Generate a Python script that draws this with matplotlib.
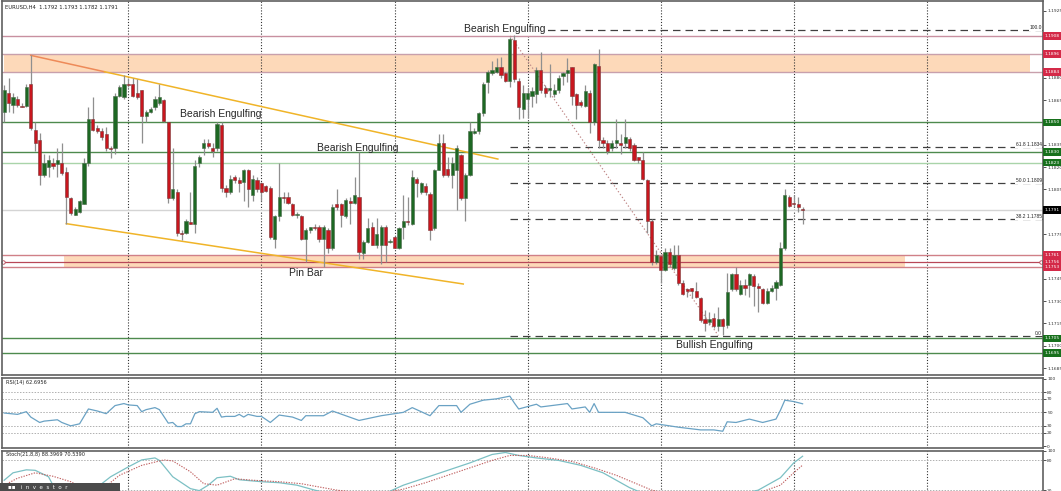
import numpy as np
import matplotlib.pyplot as plt
from matplotlib import transforms
from matplotlib.patches import Rectangle

# EURUSD H4 candles
opens = [
    1.1857, 1.1870, 1.1862, 1.1866, 1.1861, 1.1861, 1.1876, 1.1845, 1.1838, 1.1815,
    1.1820, 1.1823, 1.1822, 1.1823, 1.1817, 1.1799, 1.1788, 1.1790, 1.1795, 1.1823,
    1.1852, 1.1846, 1.1844, 1.1842, 1.1833, 1.1833, 1.1868, 1.1867, 1.1876, 1.1876,
    1.1870, 1.1872, 1.1854, 1.1857, 1.1860, 1.1863, 1.1865, 1.1850, 1.1799, 1.1803,
    1.1776, 1.1776, 1.1783, 1.1782, 1.1823, 1.1833, 1.1836, 1.1833, 1.1833, 1.1848,
    1.1806, 1.1803, 1.1813, 1.1811, 1.1810, 1.1818, 1.1801, 1.1811, 1.1809, 1.1807,
    1.1806, 1.1772, 1.1787, 1.1800, 1.1800, 1.1795, 1.1788, 1.1787, 1.1772, 1.1778,
    1.1780, 1.1780, 1.1772, 1.1778, 1.1766, 1.1795, 1.1795, 1.1787, 1.1797, 1.1796,
    1.1800, 1.1762, 1.1770, 1.1780, 1.1768, 1.1768, 1.1780, 1.1770, 1.1773, 1.1766,
    1.1780, 1.1784, 1.1782, 1.1812, 1.1803, 1.1807, 1.1802, 1.1779, 1.1818, 1.1836,
    1.1819, 1.1815, 1.1818, 1.1828, 1.1799, 1.1815, 1.1843, 1.1844, 1.1856, 1.1877,
    1.1883, 1.1884, 1.1887, 1.1883, 1.1878, 1.1905, 1.1878, 1.1859, 1.1866, 1.1868,
    1.1869, 1.1885, 1.1873, 1.1872, 1.1869, 1.1872, 1.1881, 1.1883, 1.1887, 1.1869,
    1.1864, 1.1861, 1.1870, 1.1850, 1.1888, 1.1838, 1.1836, 1.1833, 1.1836, 1.1836,
    1.1836, 1.1839, 1.1835, 1.1827, 1.1825, 1.1811, 1.1784, 1.1756, 1.1760, 1.1751,
    1.1763, 1.1752, 1.1761, 1.1742, 1.1738, 1.1739, 1.1737, 1.1732, 1.1718, 1.1716,
    1.1719, 1.1713, 1.1718, 1.1714, 1.1738, 1.1748, 1.1735, 1.1741, 1.1741, 1.1747,
    1.1740, 1.1738, 1.1729, 1.1737, 1.1739, 1.1741, 1.1766, 1.1800, 1.1796, 1.1795,
    1.1792]
highs = [
    1.1875, 1.1880, 1.1870, 1.1868, 1.1863, 1.1876, 1.1895, 1.1850, 1.1843, 1.1829,
    1.1828, 1.1826, 1.1833, 1.1836, 1.1820, 1.1800, 1.1793, 1.1798, 1.1826, 1.1860,
    1.1867, 1.1848, 1.1846, 1.1847, 1.1834, 1.1870, 1.1875, 1.1882, 1.1880, 1.1880,
    1.1879, 1.1872, 1.1858, 1.1860, 1.1868, 1.1876, 1.1866, 1.1850, 1.1833, 1.1805,
    1.1778, 1.1785, 1.1803, 1.1825, 1.1828, 1.1839, 1.1839, 1.1836, 1.1850, 1.1850,
    1.1808, 1.1815, 1.1815, 1.1813, 1.1819, 1.1819, 1.1815, 1.1813, 1.1810, 1.1808,
    1.1807, 1.1788, 1.1823, 1.1803, 1.1803, 1.1796, 1.1790, 1.1788, 1.1779, 1.1780,
    1.1782, 1.1781, 1.1781, 1.1779, 1.1795, 1.1805, 1.1796, 1.1799, 1.1800, 1.1813,
    1.1830, 1.1771, 1.1786, 1.1783, 1.1786, 1.1781, 1.1781, 1.1772, 1.1774, 1.1780,
    1.1801, 1.1800, 1.1818, 1.1813, 1.1810, 1.1809, 1.1803, 1.1819, 1.1842, 1.1842,
    1.1827, 1.1827, 1.1835, 1.1829, 1.1816, 1.1850, 1.1846, 1.1857, 1.1877, 1.1885,
    1.1891, 1.1893, 1.1894, 1.1884, 1.1907, 1.1909, 1.1880, 1.1875, 1.1873, 1.1874,
    1.1887, 1.1897, 1.1875, 1.1889, 1.1876, 1.1882, 1.1884, 1.1893, 1.1887, 1.1870,
    1.1865, 1.1875, 1.1872, 1.1890, 1.1899, 1.1840, 1.1838, 1.1838, 1.1852, 1.1842,
    1.1852, 1.1840, 1.1836, 1.1827, 1.1830, 1.1812, 1.1785, 1.1764, 1.1761, 1.1766,
    1.1766, 1.1768, 1.1768, 1.1744, 1.1739, 1.1739, 1.1743, 1.1733, 1.1724, 1.1723,
    1.1722, 1.1726, 1.1719, 1.1749, 1.1749, 1.1753, 1.1744, 1.1745, 1.1749, 1.1748,
    1.1742, 1.1739, 1.1739, 1.1741, 1.1744, 1.1770, 1.1805, 1.1801, 1.1801, 1.1800,
    1.1793]
lows = [
    1.1850, 1.1857, 1.1856, 1.1860, 1.1860, 1.1860, 1.1845, 1.1831, 1.1808, 1.1813,
    1.1813, 1.1819, 1.1813, 1.1815, 1.1782, 1.1788, 1.1788, 1.1789, 1.1795, 1.1821,
    1.1844, 1.1843, 1.1838, 1.1831, 1.1826, 1.1829, 1.1867, 1.1866, 1.1874, 1.1867,
    1.1866, 1.1836, 1.1850, 1.1856, 1.1858, 1.1862, 1.1850, 1.1796, 1.1798, 1.1774,
    1.1771, 1.1775, 1.1782, 1.1776, 1.1820, 1.1828, 1.1833, 1.1827, 1.1831, 1.1803,
    1.1800, 1.1802, 1.1809, 1.1803, 1.1797, 1.1793, 1.1797, 1.1803, 1.1797, 1.1803,
    1.1772, 1.1766, 1.1784, 1.1796, 1.1795, 1.1787, 1.1786, 1.1771, 1.1756, 1.1776,
    1.1778, 1.1770, 1.1753, 1.1762, 1.1764, 1.1791, 1.1780, 1.1786, 1.1782, 1.1795,
    1.1758, 1.1758, 1.1769, 1.1768, 1.1766, 1.1755, 1.1756, 1.1769, 1.1766, 1.1765,
    1.1772, 1.1781, 1.1781, 1.1800, 1.1802, 1.1801, 1.1771, 1.1778, 1.1818, 1.1813,
    1.1813, 1.1806, 1.1791, 1.1798, 1.1784, 1.1814, 1.1842, 1.1842, 1.1854, 1.1870,
    1.1882, 1.1883, 1.1880, 1.1877, 1.1874, 1.1877, 1.1852, 1.1853, 1.1853, 1.1860,
    1.1863, 1.1870, 1.1867, 1.1867, 1.1867, 1.1870, 1.1875, 1.1877, 1.1862, 1.1852,
    1.1860, 1.1860, 1.1843, 1.1848, 1.1833, 1.1833, 1.1829, 1.1831, 1.1833, 1.1829,
    1.1833, 1.1831, 1.1824, 1.1823, 1.1811, 1.1776, 1.1754, 1.1755, 1.1742, 1.1750,
    1.1753, 1.1751, 1.1741, 1.1734, 1.1733, 1.1732, 1.1732, 1.1716, 1.1710, 1.1714,
    1.1712, 1.1710, 1.1707, 1.1712, 1.1737, 1.1737, 1.1734, 1.1734, 1.1733, 1.1727,
    1.1723, 1.1728, 1.1728, 1.1736, 1.1731, 1.1740, 1.1764, 1.1793, 1.1793, 1.1790,
    1.1782]
closes = [
    1.1872, 1.1863, 1.1867, 1.1862, 1.1860, 1.1874, 1.1846, 1.1836, 1.1815, 1.1823,
    1.1825, 1.1821, 1.1825, 1.1816, 1.1800, 1.1789, 1.1792, 1.1797, 1.1823, 1.1852,
    1.1845, 1.1844, 1.1840, 1.1833, 1.1832, 1.1868, 1.1874, 1.1876, 1.1875, 1.1868,
    1.1867, 1.1854, 1.1857, 1.1859, 1.1866, 1.1867, 1.1851, 1.1799, 1.1805, 1.1776,
    1.1775, 1.1784, 1.1782, 1.1821, 1.1827, 1.1836, 1.1834, 1.1831, 1.1849, 1.1806,
    1.1803, 1.1812, 1.1811, 1.1809, 1.1818, 1.1805, 1.1812, 1.1805, 1.1803, 1.1804,
    1.1773, 1.1787, 1.1800, 1.1799, 1.1796, 1.1788, 1.1788, 1.1772, 1.1778, 1.1780,
    1.1779, 1.1772, 1.1780, 1.1766, 1.1793, 1.1793, 1.1788, 1.1798, 1.1796, 1.1801,
    1.1763, 1.1770, 1.1779, 1.1768, 1.1775, 1.1780, 1.1768, 1.1770, 1.1766, 1.1779,
    1.1784, 1.1783, 1.1813, 1.1809, 1.1809, 1.1803, 1.1778, 1.1818, 1.1836, 1.1815,
    1.1815, 1.1823, 1.1833, 1.1799, 1.1815, 1.1844, 1.1844, 1.1856, 1.1876, 1.1884,
    1.1885, 1.1887, 1.1882, 1.1878, 1.1906, 1.1879, 1.1860, 1.1870, 1.1870, 1.1871,
    1.1885, 1.1872, 1.1870, 1.1873, 1.1872, 1.1880, 1.1883, 1.1885, 1.1868, 1.1862,
    1.1862, 1.1871, 1.1850, 1.1889, 1.1838, 1.1836, 1.1831, 1.1836, 1.1838, 1.1835,
    1.1840, 1.1833, 1.1825, 1.1825, 1.1812, 1.1784, 1.1756, 1.1761, 1.1751, 1.1763,
    1.1755, 1.1761, 1.1742, 1.1735, 1.1737, 1.1737, 1.1733, 1.1717, 1.1715, 1.1718,
    1.1713, 1.1718, 1.1713, 1.1736, 1.1748, 1.1738, 1.1741, 1.1739, 1.1748, 1.1740,
    1.1739, 1.1729, 1.1737, 1.1739, 1.1743, 1.1766, 1.1801, 1.1794, 1.1795, 1.1793,
    1.1791]

# RSI(14) readings (bar, value)
rsi_bars = [0, 3, 5, 6, 8, 9, 12, 13, 15, 17, 19, 21, 23, 25, 27, 28, 30, 31, 32, 34, 35, 37, 38, 39, 40,
            41, 42, 43, 44, 47, 48, 49, 50, 52, 53, 54, 55, 57, 58, 60, 62, 64, 65, 67,
            68, 72, 74, 80, 85, 90, 92, 96, 98, 102, 103, 105, 108, 111, 114, 115, 116, 120, 121,
            127, 128, 131, 132, 133, 134, 140, 144, 146, 147, 152, 157, 160, 162, 163, 165, 168,
            171, 174, 175, 176, 178, 180]
rsi_vals = [49, 47, 51, 43, 35, 37, 39, 35, 30, 33, 55, 52, 48, 60, 63, 61, 60, 51, 54, 57, 54, 34, 35, 29, 29,
            33, 33, 48, 51, 50, 56, 43, 44, 44, 47, 43, 47, 44, 44, 35, 46, 44, 43, 38,
            45, 45, 52, 38, 45, 50, 57, 45, 60, 60, 50, 62, 68, 70, 74, 64, 55, 62, 58,
            63, 55, 58, 50, 63, 50, 50, 42, 30, 33, 28, 24, 24, 22, 36, 35, 40,
            35, 40, 53, 68, 66, 62.7]

# Stoch(21,8,8) main and signal readings (bar, value)
stm_bars = [0, 2, 5, 7, 10, 11, 13, 16, 20, 24, 28, 31, 34, 35, 38, 42, 44, 46, 48, 51, 53, 58, 62, 66,
            70, 75, 80, 85, 90, 95, 100, 105, 110, 113, 116, 120, 125, 130, 135, 138, 141, 145, 150,
            160, 165, 170, 175, 178, 180]
stm_vals = [40, 55, 61, 60, 47, 30, 19, 8, 19, 47, 67, 81, 85, 80, 47, 23, 19, 30, 45, 48, 41, 37, 35, 30,
            20, 10, 15, 10, 30, 45, 60, 75, 92, 96, 90, 85, 80, 70, 55, 40, 25, 10, 5,
            3, 10, 20, 45, 75, 88.4]
sts_bars = [0, 3, 7, 11, 15, 18, 22, 26, 31, 36, 38, 42, 45, 48, 52, 56, 62, 67,
            70, 75, 80, 85, 90, 95, 100, 105, 110, 114, 118, 122, 128, 133, 138, 142, 146, 152,
            160, 166, 170, 175, 178, 180]
sts_vals = [30, 44, 55, 48, 37, 23, 21, 50, 70, 81, 79, 57, 33, 30, 43, 40, 37, 33,
            28, 20, 15, 14, 22, 35, 50, 65, 80, 90, 90, 86, 78, 65, 50, 35, 20, 8,
            5, 8, 14, 30, 55, 70.5]

# levels drawn on the chart
fib_high = 1.19119
fib_low = 1.17069
fib_start = 114
fib_end = 161
fib_ratios = [0.0, 38.2, 50.0, 61.8, 100.0]
zone_top = [1.1896, 1.1884]
zone_bottom = [1.1761, 1.1753]
zone_mid = 1.1756
mauve_level = 1.1908
green_levels = [1.1850, 1.1830, 1.1705, 1.1695]
light_green_level = 1.1823
bid = 1.1791
upper_trend = [(6, 1.1895), (111.3, 1.18254)]
lower_trend = [(14, 1.1782), (103.5, 1.17415)]
notes = [("Bearish Engulfing", 112.9, 1.19127), ("Bearish Engulfing", 48.9, 1.18556),
         ("Bearish Engulfing", 79.8, 1.18328), ("Pin Bar", 68.1, 1.17489),
         ("Bullish Engulfing", 160.1, 1.17005)]

W, H = 1061, 491
fig = plt.figure(figsize=(W / 100, H / 100), dpi=100)
fig.patch.set_facecolor("white")


def box(top, bottom, left=1.5, right=1043):
    return [left / W, 1 - bottom / H, (right - left) / W, (bottom - top) / H]


ax = fig.add_axes(box(1, 375))
ar = fig.add_axes(box(377.5, 448))
ast = fig.add_axes(box(450.5, 505))

xl = (-0.6, 234.2)
for a in (ax, ar, ast):
    a.set_xlim(*xl)
    a.set_xticks([])
    for s in a.spines.values():
        s.set_color("#606060")
        s.set_linewidth(1.2)
    a.yaxis.tick_right()
    a.tick_params(axis="y", length=2.2, width=0.6, pad=0.8, labelsize=3.2,
                  colors="#333333")
    for b in range(28, 234, 30):
        a.axvline(b, color="#333333", lw=0.8, ls=(0, (1, 1.6)), zorder=1)

ax.set_ylim(1.16804, 1.19315)
ticks = [1.1925 - 0.0015 * k for k in range(17)]
ax.set_yticks(ticks)
ax.set_yticklabels(["%.4f" % t for t in ticks])

# zones and levels
for z, x0, x1 in ((zone_top, 0, 231.3), (zone_bottom, 13.6, 203.1)):
    ax.fill_between([x0, x1], z[1], z[0], color="#fdd9b9", lw=0, zorder=0.5)
ax.axhline(mauve_level, color="#c890a0", lw=1, zorder=1.2)
for v in zone_top:
    ax.axhline(v, color="#c8a0ac", lw=1, zorder=1.2)
for v in zone_bottom:
    ax.axhline(v, color="#d08088", lw=1, zorder=1.2)
ax.axhline(zone_mid, color="#b84858", lw=0.9, zorder=1.2)
for v in green_levels:
    ax.axhline(v, color="#4e8a4e", lw=1, zorder=1.2)
ax.axhline(light_green_level, color="#a9d4a9", lw=1, zorder=1.2)
ax.axhline(bid, color="#d4d4d4", lw=1, zorder=1.1)
ax.plot([-0.2, 233.8], [zone_mid, zone_mid], "o", ms=2.5, mfc="white", mec="#b84858",
        mew=0.6, zorder=1.3, clip_on=False)

# fibonacci
for r in fib_ratios:
    lv = fib_low + (fib_high - fib_low) * r / 100
    ax.plot([fib_start, xl[1]], [lv, lv], color="#404040", lw=0.9, ls=(0, (6, 4)), zorder=1.4)
    lab = "%.1f" % r if r in (0.0, 100.0) else "%.1f %.4f" % (r, lv)
    ax.text(xl[1] - 0.3, lv, lab, fontsize=3.5, ha="right", va="bottom", color="#222222",
            family="Liberation Sans", zorder=3,
            bbox=dict(boxstyle="square,pad=0.15", fc="white", ec="none"))
ax.plot([fib_start - 0.8, fib_end], [fib_high, fib_low], color="#c08888", lw=0.9,
        ls=(0, (1, 1.8)), zorder=1.5)

# trend lines
(ux0, uy0), (ux1, uy1) = upper_trend
ux_cut = ux0 + (ux1 - ux0) * (uy0 - zone_top[1]) / (uy0 - uy1)
uy_cut = zone_top[1]
ax.plot([ux0, ux_cut], [uy0, uy_cut], color="#ee8a58", lw=1.1, zorder=1.6)
ax.plot([ux_cut, ux1], [uy_cut, uy1], color="#f0b428", lw=1.1, zorder=1.6)
ax.plot(*zip(*lower_trend), color="#f0b428", lw=1.1, zorder=1.6)

# candles
idx = np.arange(len(opens))
o = np.array(opens)
c = np.array(closes)
up = c >= o
ax.vlines(idx, lows, highs, color="#8f8f8f", lw=0.9, zorder=2)
hgt = np.maximum(np.abs(c - o), 0.00005)
bot = np.minimum(o, c)
ax.bar(idx[up], hgt[up], bottom=bot[up], width=0.72, color="#1d6823", edgecolor="#4a6a4a",
       lw=0.4, zorder=2.2)
ax.bar(idx[~up], hgt[~up], bottom=bot[~up], width=0.72, color="#c8161e", edgecolor="#7a3a3a",
       lw=0.4, zorder=2.2)

for t, bx, by in notes:
    ax.text(bx, by, t, fontsize=7.5, family="Liberation Sans", color="#262626",
            ha="center", va="center", zorder=4,
            bbox=dict(boxstyle="square,pad=0.05", fc="white", ec="none") if by > 1.19 else None)

# price tags at right edge
tag = transforms.blended_transform_factory(fig.transFigure, ax.transData)
tags = [(mauve_level, "#d42a48"), (zone_top[0], "#d42a48"), (zone_top[1], "#d42a48"),
        (green_levels[0], "#17701c"), (green_levels[1], "#17701c"), (light_green_level, "#17701c"),
        (bid, "#000000"), (zone_bottom[0], "#d42a48"), (zone_mid, "#d42a48"),
        (zone_bottom[1], "#d42a48"), (green_levels[2], "#17701c"), (green_levels[3], "#17701c")]
for v, col in tags:
    fig.text(1044.5 / W, v, "%.4f" % v, transform=tag, fontsize=3.2, color="white",
             va="center", ha="left", family="DejaVu Sans",
             bbox=dict(boxstyle="square,pad=0.4", fc=col, ec="none"))

fig.text(5 / W, 1 - 7 / H, "EURUSD,H4  1.1792 1.1793 1.1782 1.1791", fontsize=3.8,
         color="#222222", va="center", family="DejaVu Sans")

# RSI
ar.set_ylim(-2.8, 101.6)
ar.set_yticks([0, 20, 30, 50, 70, 80, 100])
for lv in (20, 30, 50, 70, 80):
    ar.axhline(lv, color="#b0b0b0", lw=0.7, ls=(0, (1.5, 1.5)), zorder=1)
ar.plot(rsi_bars, rsi_vals, color="#6aa2c4", lw=0.9, zorder=3)
ar.text(0.004, 0.93, "RSI(14) 62.6956", transform=ar.transAxes, fontsize=3.6,
        color="#222222", va="center", family="DejaVu Sans")

# Stochastic
ast.set_ylim(-10, 100)
ast.set_yticks([20, 80, 100])
for lv in (20, 80):
    ast.axhline(lv, color="#b0b0b0", lw=0.7, ls=(0, (1.5, 1.5)), zorder=1)
ast.plot(stm_bars, stm_vals, color="#7cc0c4", lw=0.9, zorder=3)
ast.plot(sts_bars, sts_vals, color="#c06060", lw=0.8, ls=(0, (1.2, 1.2)), zorder=3)
ast.text(0.004, 1 - 4 / 54.5, "Stoch(21,8,8) 88.3969 70.5390", transform=ast.transAxes,
         fontsize=3.6, color="#222222", va="center", family="DejaVu Sans")

# watermark strip at the bottom-left
fig.patches.append(Rectangle((0, 0), 120 / W, 8 / H, transform=fig.transFigure,
                             fc="#4b4b4b", ec="none", zorder=5))
fig.text(8 / W, 2 / H, "▪▪   i  n  v  e  s  t  o  r", fontsize=4, color="white",
         zorder=6, family="DejaVu Sans")

fig.savefig("out.png", dpi=100)
